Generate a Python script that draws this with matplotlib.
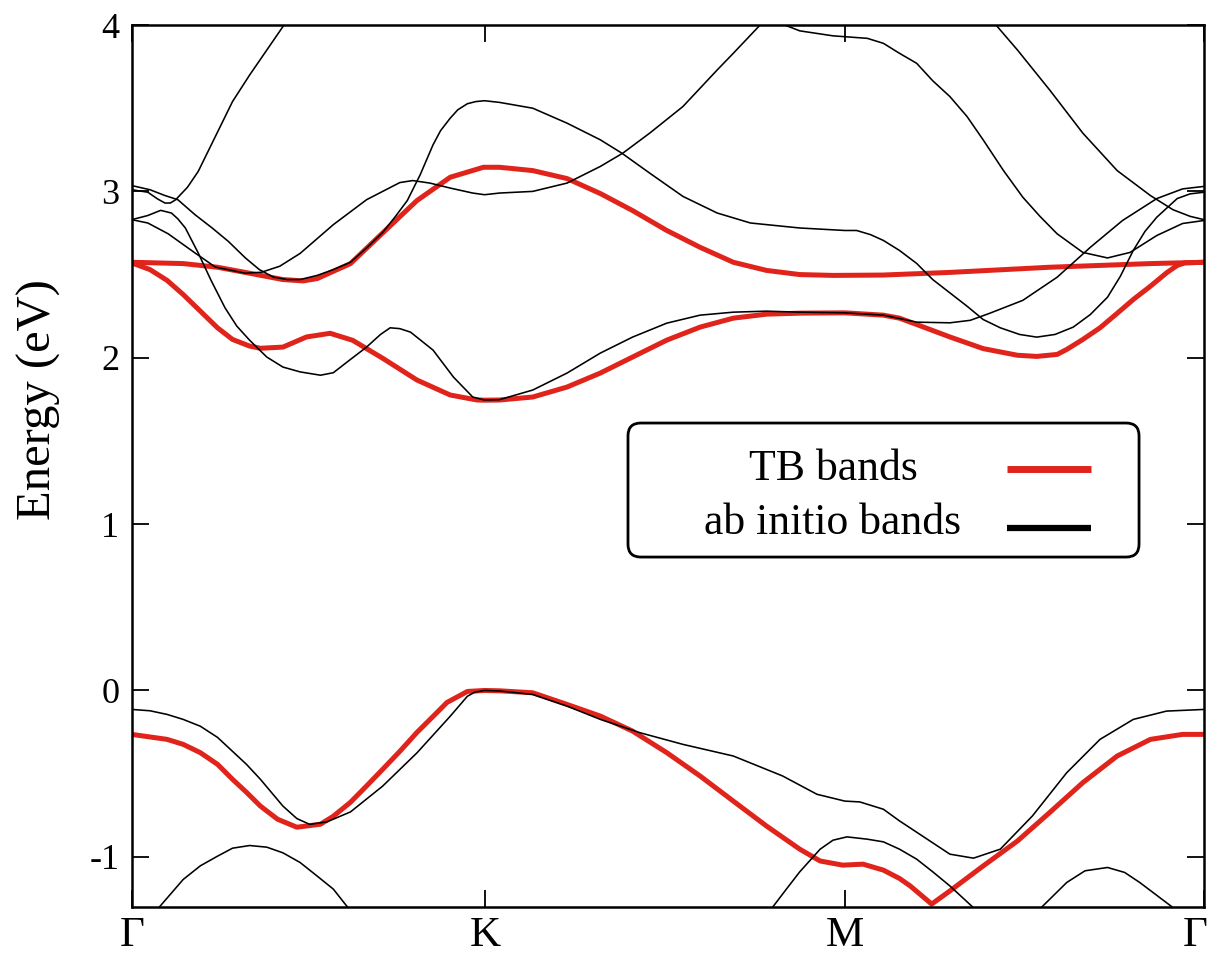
import matplotlib
matplotlib.use("Agg")
import matplotlib.pyplot as plt
from matplotlib.patches import FancyBboxPatch
from matplotlib.transforms import ScaledTranslation

plt.rcParams['font.family'] = ['Liberation Serif', 'DejaVu Serif']
plt.rcParams['axes.unicode_minus'] = False

# High-symmetry points along the path (fraction of total path length)
kpoint_labels = ['Γ', 'K', 'M', 'Γ']
kpoint_pos = [0.0, 0.3295, 0.6652, 1.0]
energy_ticks = [-1, 0, 1, 2, 3, 4]
energy_range = (-1.3, 4.0)
legend_labels = ['TB bands', 'ab initio bands']

# ---------------- tight-binding bands ----------------
k_tb_v = [0.0, 0.033, 0.048, 0.064, 0.080, 0.094, 0.107, 0.120, 0.136, 0.154, 0.176,
          0.188, 0.204, 0.219, 0.234, 0.250, 0.266, 0.281, 0.294, 0.313, 0.329, 0.343,
          0.374, 0.406, 0.437, 0.467, 0.499, 0.530, 0.561, 0.592, 0.623, 0.642, 0.663,
          0.682, 0.701, 0.716, 0.726, 0.746, 0.763, 0.794, 0.826, 0.856, 0.887, 0.919,
          0.950, 0.980, 1.0]
e_tb_v = [-0.264, -0.294, -0.324, -0.374, -0.444, -0.534, -0.612, -0.695, -0.774, -0.822,
          -0.804, -0.756, -0.672, -0.574, -0.474, -0.366, -0.252, -0.156, -0.072, -0.006,
          0.0, -0.002, -0.014, -0.084, -0.154, -0.244, -0.374, -0.514, -0.665, -0.815,
          -0.954, -1.025, -1.05, -1.044, -1.08, -1.13, -1.175, -1.284, -1.205, -1.055,
          -0.905, -0.734, -0.554, -0.394, -0.294, -0.264, -0.264]

k_tb_c1 = [0.0, 0.017, 0.033, 0.048, 0.064, 0.080, 0.094, 0.110, 0.120, 0.141, 0.163,
           0.185, 0.206, 0.234, 0.266, 0.297, 0.322, 0.329, 0.343, 0.374, 0.406, 0.437,
           0.467, 0.499, 0.530, 0.561, 0.592, 0.623, 0.665, 0.701, 0.716, 0.732, 0.763,
           0.794, 0.826, 0.844, 0.863, 0.872, 0.887, 0.903, 0.919, 0.934, 0.950, 0.965,
           0.975, 0.982, 1.0]
e_tb_c1 = [2.57, 2.53, 2.465, 2.38, 2.28, 2.18, 2.11, 2.07, 2.057, 2.064, 2.125, 2.147,
           2.105, 1.997, 1.866, 1.776, 1.746, 1.745, 1.746, 1.764, 1.824, 1.908, 2.004,
           2.106, 2.184, 2.238, 2.262, 2.268, 2.27, 2.256, 2.238, 2.20, 2.125, 2.055,
           2.015, 2.008, 2.02, 2.05, 2.11, 2.18, 2.267, 2.35, 2.43, 2.51, 2.555, 2.57, 2.574]

k_tb_c2 = [0.0, 0.048, 0.080, 0.110, 0.141, 0.160, 0.173, 0.204, 0.234, 0.266, 0.297,
           0.328, 0.343, 0.374, 0.406, 0.437, 0.467, 0.499, 0.530, 0.561, 0.592, 0.623,
           0.654, 0.700, 0.763, 0.856, 0.950, 1.0]
e_tb_c2 = [2.574, 2.566, 2.544, 2.508, 2.47, 2.462, 2.476, 2.566, 2.75, 2.945, 3.085,
           3.145, 3.145, 3.125, 3.077, 2.987, 2.885, 2.765, 2.664, 2.574, 2.525, 2.50,
           2.495, 2.497, 2.513, 2.544, 2.566, 2.574]

# ---------------- ab initio bands ----------------
k_ai_v1 = [0.0, 0.017, 0.033, 0.048, 0.064, 0.080, 0.094, 0.107, 0.120, 0.141, 0.154,
           0.166, 0.182, 0.204, 0.234, 0.266, 0.297, 0.313, 0.320, 0.329, 0.343, 0.374,
           0.406, 0.437, 0.474, 0.514, 0.561, 0.607, 0.639, 0.665, 0.679, 0.701, 0.716,
           0.732, 0.763, 0.785, 0.810, 0.840, 0.872, 0.903, 0.934, 0.965, 1.0]
e_ai_v1 = [-0.114, -0.122, -0.144, -0.174, -0.215, -0.282, -0.366, -0.444, -0.534, -0.695,
           -0.77, -0.805, -0.79, -0.73, -0.575, -0.375, -0.155, -0.035, -0.01, 0.0,
           -0.003, -0.024, -0.094, -0.174, -0.254, -0.324, -0.394, -0.514, -0.624, -0.665,
           -0.67, -0.714, -0.784, -0.852, -0.984, -1.008, -0.954, -0.754, -0.494, -0.294,
           -0.174, -0.124, -0.114]

# second valence band, visible only where it rises above the lower energy limit
k_ai_v2a = [0.026, 0.048, 0.064, 0.080, 0.094, 0.110, 0.126, 0.141, 0.157, 0.173, 0.188, 0.201]
e_ai_v2a = [-1.30, -1.136, -1.054, -0.996, -0.948, -0.932, -0.942, -0.976, -1.034, -1.116,
            -1.194, -1.30]
k_ai_v2b = [0.598, 0.611, 0.623, 0.642, 0.654, 0.667, 0.686, 0.701, 0.716, 0.732, 0.747,
            0.763, 0.784]
e_ai_v2b = [-1.30, -1.19, -1.09, -0.954, -0.90, -0.88, -0.894, -0.91, -0.954, -1.014,
            -1.09, -1.175, -1.30]
k_ai_v2c = [0.849, 0.872, 0.889, 0.910, 0.926, 0.940, 0.970]
e_ai_v2c = [-1.30, -1.154, -1.084, -1.064, -1.094, -1.154, -1.30]

k_ai_c1 = [0.0, 0.015, 0.027, 0.037, 0.043, 0.050, 0.062, 0.074, 0.087, 0.098, 0.110,
           0.126, 0.141, 0.157, 0.176, 0.188, 0.204, 0.219, 0.232, 0.241, 0.250, 0.260,
           0.281, 0.300, 0.318, 0.329, 0.343, 0.374, 0.406, 0.437, 0.467, 0.499, 0.530,
           0.561, 0.592, 0.623, 0.665, 0.701, 0.732, 0.763, 0.782, 0.800, 0.831, 0.863,
           0.894, 0.924, 0.956, 0.980, 1.0]
e_ai_c1 = [2.83, 2.855, 2.886, 2.87, 2.835, 2.78, 2.63, 2.465, 2.30, 2.19, 2.105, 2.004,
           1.944, 1.915, 1.895, 1.91, 1.99, 2.064, 2.14, 2.18, 2.175, 2.154, 2.046, 1.884,
           1.764, 1.746, 1.748, 1.806, 1.908, 2.028, 2.124, 2.208, 2.256, 2.274, 2.28,
           2.274, 2.27, 2.256, 2.214, 2.21, 2.225, 2.267, 2.345, 2.484, 2.664, 2.825,
           2.957, 3.015, 3.03]

k_ai_c2a = [0.0, 0.015, 0.034, 0.059, 0.078, 0.106, 0.121, 0.138, 0.157, 0.188, 0.219,
            0.250, 0.262, 0.278, 0.297, 0.318, 0.329, 0.343, 0.374, 0.406, 0.437, 0.458,
            0.483, 0.514, 0.546, 0.561, 0.586]
e_ai_c2a = [2.83, 2.81, 2.745, 2.63, 2.545, 2.508, 2.514, 2.55, 2.627, 2.80, 2.95, 3.053,
            3.065, 3.05, 3.02, 2.99, 2.98, 2.99, 3.0, 3.05, 3.15, 3.23, 3.35, 3.51, 3.73,
            3.83, 4.0]
k_ai_c2b = [0.609, 0.623, 0.654, 0.686, 0.701, 0.716, 0.732, 0.747, 0.763, 0.779, 0.794,
            0.813, 0.831, 0.847, 0.863, 0.887, 0.910, 0.931, 0.956, 0.980, 1.0]
e_ai_c2b = [4.0, 3.965, 3.935, 3.92, 3.89, 3.83, 3.77, 3.665, 3.57, 3.45, 3.31, 3.125,
            2.965, 2.85, 2.745, 2.633, 2.60, 2.633, 2.735, 2.807, 2.825]

k_ai_c3a = [0.0, 0.015, 0.024, 0.031, 0.036, 0.041, 0.052, 0.062, 0.078, 0.094, 0.110,
            0.126, 0.142]
e_ai_c3a = [3.01, 2.995, 2.955, 2.93, 2.93, 2.95, 3.025, 3.12, 3.33, 3.54, 3.70, 3.85, 4.0]
k_ai_c3b = [0.806, 0.826, 0.856, 0.887, 0.919, 0.950, 0.971, 0.987, 1.0]
e_ai_c3b = [4.0, 3.85, 3.61, 3.35, 3.125, 2.975, 2.89, 2.85, 2.83]

k_ai_c4 = [0.0, 0.017, 0.031, 0.043, 0.059, 0.075, 0.090, 0.106, 0.119, 0.132, 0.145,
           0.157, 0.173, 0.188, 0.204, 0.219, 0.234, 0.246, 0.257, 0.269, 0.281, 0.288,
           0.297, 0.304, 0.313, 0.321, 0.329, 0.343, 0.374, 0.406, 0.437, 0.457, 0.483,
           0.514, 0.546, 0.577, 0.623, 0.665, 0.676, 0.689, 0.701, 0.716, 0.732, 0.747,
           0.763, 0.779, 0.794, 0.810, 0.828, 0.844, 0.861, 0.878, 0.894, 0.910, 0.922,
           0.934, 0.945, 0.956, 0.975, 0.987, 1.0]
e_ai_c4 = [3.035, 3.01, 2.975, 2.95, 2.86, 2.78, 2.70, 2.60, 2.53, 2.485, 2.47, 2.47,
           2.495, 2.53, 2.574, 2.66, 2.753, 2.85, 2.945, 3.1, 3.28, 3.365, 3.44, 3.49,
           3.527, 3.54, 3.545, 3.535, 3.50, 3.41, 3.31, 3.23, 3.11, 2.97, 2.87, 2.81,
           2.78, 2.765, 2.765, 2.74, 2.705, 2.645, 2.567, 2.47, 2.39, 2.31, 2.23, 2.18,
           2.14, 2.124, 2.14, 2.184, 2.26, 2.364, 2.49, 2.645, 2.76, 2.845, 2.957, 2.985,
           2.995]

tb_bands = [(k_tb_v, e_tb_v), (k_tb_c1, e_tb_c1), (k_tb_c2, e_tb_c2)]
ai_bands = [(k_ai_v1, e_ai_v1), (k_ai_v2a, e_ai_v2a), (k_ai_v2b, e_ai_v2b),
            (k_ai_v2c, e_ai_v2c), (k_ai_c1, e_ai_c1), (k_ai_c2a, e_ai_c2a),
            (k_ai_c2b, e_ai_c2b), (k_ai_c3a, e_ai_c3a), (k_ai_c3b, e_ai_c3b),
            (k_ai_c4, e_ai_c4)]

RED = '#e0241b'

fig = plt.figure(figsize=(12.13, 9.59), dpi=100)
ax = fig.add_axes([0.1086, 0.0545, 0.884, 0.9194])

for k, e in tb_bands:
    ax.plot(k, e, color=RED, lw=3.6, solid_joinstyle='round', solid_capstyle='butt')
for k, e in ai_bands:
    ax.plot(k, e, color='black', lw=1.15, solid_joinstyle='round')

ax.set_xlim(0, 1)
ax.set_ylim(*energy_range)
ax.set_xticks(kpoint_pos)
ax.set_xticklabels(kpoint_labels, fontsize=31)
ax.set_yticks(energy_ticks)
ax.set_yticklabels([str(v) for v in energy_ticks], fontsize=26)
ax.tick_params(axis='both', direction='in', length=12, width=1.3,
               top=True, right=True)
ax.tick_params(axis='x', pad=7)
ax.tick_params(axis='y', pad=9)
for s in ax.spines.values():
    s.set_linewidth(1.8)

# keep the closing Γ inside the canvas
last_label = ax.get_xticklabels()[-1]
last_label.set_transform(last_label.get_transform() +
                         ScaledTranslation(-9 / 100, 0, fig.dpi_scale_trans))

ax.set_ylabel('Energy (eV)', fontsize=35)
ax.yaxis.set_label_coords(-0.066, 0.575)

# key: centred labels followed by line samples, inside a rounded box
box = FancyBboxPatch((0.4628, 0.3966), 0.9394 - 0.4628, 0.5486 - 0.3966,
                     boxstyle='round,pad=0,rounding_size=0.012',
                     mutation_aspect=1072.3 / 881.7,
                     transform=ax.transAxes, facecolor='white', edgecolor='black',
                     lw=2.0, zorder=4)
ax.add_patch(box)
key_colors = [RED, 'black']
key_widths = [5.0, 4.5]
key_text_y = [0.497, 0.435]
key_line_y = [0.496, 0.430]
for label, color, width, ty, ly in zip(legend_labels, key_colors, key_widths,
                                       key_text_y, key_line_y):
    ax.text(0.654, ty, label, transform=ax.transAxes, ha='center', va='center',
            fontsize=31.5, zorder=5)
    ax.plot([0.8163, 0.8945], [ly, ly], transform=ax.transAxes,
            color=color, lw=width, solid_capstyle='butt', zorder=5, clip_on=False)

fig.savefig('out.png', dpi=100)
